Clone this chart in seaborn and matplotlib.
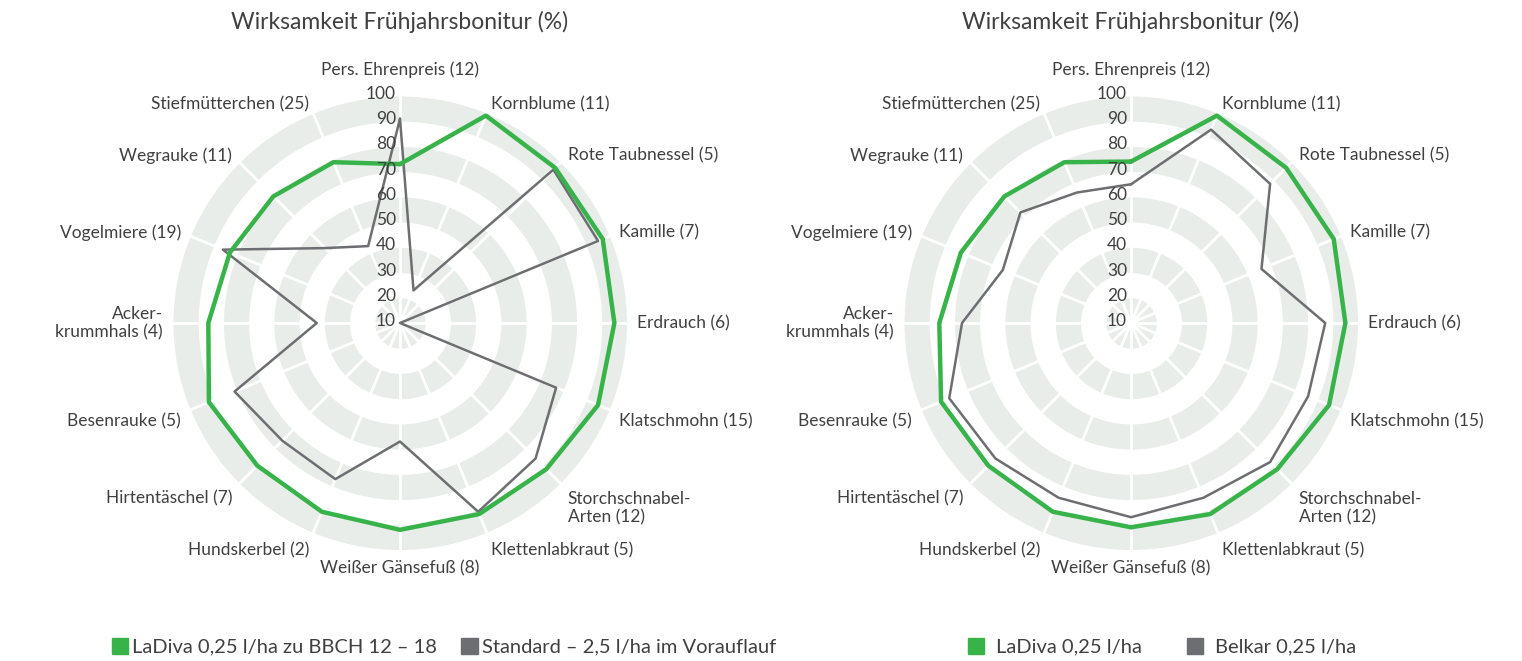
import numpy as np
import pandas as pd
import matplotlib
matplotlib.use("Agg")
import matplotlib.pyplot as plt
import matplotlib.transforms as mtransforms
from matplotlib.patches import Patch
import seaborn as sns

# data (radial axis 10..100)
categories = ["Pers. Ehrenpreis (12)", "Kornblume (11)", "Rote Taubnessel (5)", "Kamille (7)",
              "Erdrauch (6)", "Klatschmohn (15)", "Storchschnabel-\nArten (12)", "Klettenlabkraut (5)",
              "Weißer Gänsefuß (8)", "Hundskerbel (2)", "Hirtentäschel (7)", "Besenrauke (5)",
              "Acker-\nkrummhals (4)", "Vogelmiere (19)", "Wegrauke (11)", "Stiefmütterchen (25)"]
ladiva_left = [73, 99, 97, 97, 95, 95, 92, 92, 92, 91, 90, 92, 86, 83, 81, 79]
standard = [91, 24, 96, 95, 10, 77, 86, 91, 57, 77, 76, 81, 43, 86, 52, 43]
ladiva_right = [74, 99, 97, 97, 95, 95, 92, 92, 91, 91, 90, 91.5, 86, 83, 81, 79]
belkar = [65, 93, 88, 66, 87, 86, 88, 85, 87, 85, 86, 88, 77, 65, 72, 66]
r_ticks = [10, 20, 30, 40, 50, 60, 70, 80, 90, 100]

title = "Wirksamkeit Frühjahrsbonitur (%)"
legend_left = ["LaDiva 0,25 l/ha zu BBCH 12 – 18", "Standard – 2,5 l/ha im Vorauflauf"]
legend_right = ["LaDiva 0,25 l/ha", "Belkar 0,25 l/ha"]

GREEN = "#37b34a"
GREY = "#6d6e71"
BAND = "#e8edea"
TXT = "#404040"

sns.set_theme(style="white")
plt.rcParams["font.family"] = ["Lato", "DejaVu Sans"]

fig = plt.figure(figsize=(15.22, 6.61), dpi=100)


def radar(ax, s1, s2):
    n = len(categories)
    angles = np.arange(n) * 2 * np.pi / n
    ax.set_theta_zero_location("N")
    ax.set_theta_direction(-1)
    ax.set_ylim(10, 100)
    ax.grid(False)
    ax.spines["polar"].set_visible(False)
    ax.set_xticks([])
    ax.set_yticks([])

    # background rings: grey / white alternating every 10
    th = np.linspace(0, 2 * np.pi, 400)
    for lo in [10, 30, 50, 70, 90]:
        ax.fill_between(th, lo, lo + 10, color=BAND, lw=0, zorder=0)
    for a in angles:
        ax.plot([a, a], [10, 100], color="white", lw=2, zorder=1)

    # close the polygon by repeating the first value at 2*pi
    closed = np.append(angles, 2 * np.pi)
    df = pd.DataFrame({"theta": closed,
                       "a": np.append(s1, s1[0]),
                       "b": np.append(s2, s2[0])})
    sns.lineplot(data=df, x="theta", y="b", ax=ax, sort=False, estimator=None,
                 color=GREY, lw=1.8, zorder=3)
    sns.lineplot(data=df, x="theta", y="a", ax=ax, sort=False, estimator=None,
                 color=GREEN, lw=3.2, zorder=4)
    ax.set_xlabel("")
    ax.set_ylabel("")

    # radial tick labels along the top spoke
    off = mtransforms.offset_copy(ax.transData, fig=fig, x=-4, y=2, units="dots")
    for v in r_ticks:
        ax.text(0, v, str(v), transform=off, ha="right", va="center",
                fontsize=12.5, color=TXT, zorder=5)

    # category labels
    for a, lab in zip(angles, categories):
        s, c = np.sin(a), np.cos(a)
        ha = "center" if abs(s) < 0.01 else ("left" if s > 0 else "right")
        if abs(a) < 0.01:
            va = "bottom"
            r = 107
        elif c < -0.01:
            va = "top"
            r = 104
        else:
            va = "center"
            r = 104
        ax.text(a, r, lab, ha=ha, va=va, fontsize=12.5, color=TXT)


W, H = 1522, 661
R = 227
for cx, s1, s2 in [(400, ladiva_left, standard), (1131, ladiva_right, belkar)]:
    ax = fig.add_axes([(cx - R) / W, (H - 323 - R) / H, 2 * R / W, 2 * R / H], projection="polar")
    radar(ax, s1, s2)
    fig.text(cx / W, 1 - 22 / H, title, ha="center", va="center", fontsize=16.5, color=TXT)

fig.legend(handles=[Patch(color=GREEN), Patch(color=GREY)], labels=legend_left,
           loc="center", bbox_to_anchor=(444 / W, 1 - 647 / H), ncol=2, frameon=False,
           fontsize=14.5, handlelength=0.8, handleheight=0.8, handletextpad=0.2,
           columnspacing=1.2, labelcolor=TXT)
fig.legend(handles=[Patch(color=GREEN), Patch(color=GREY)], labels=legend_right,
           loc="center", bbox_to_anchor=(1162 / W, 1 - 647 / H), ncol=2, frameon=False,
           fontsize=14.5, handlelength=0.8, handleheight=0.8, handletextpad=0.6,
           columnspacing=2.2, labelcolor=TXT)

fig.savefig("out.png", dpi=100, facecolor="white")
